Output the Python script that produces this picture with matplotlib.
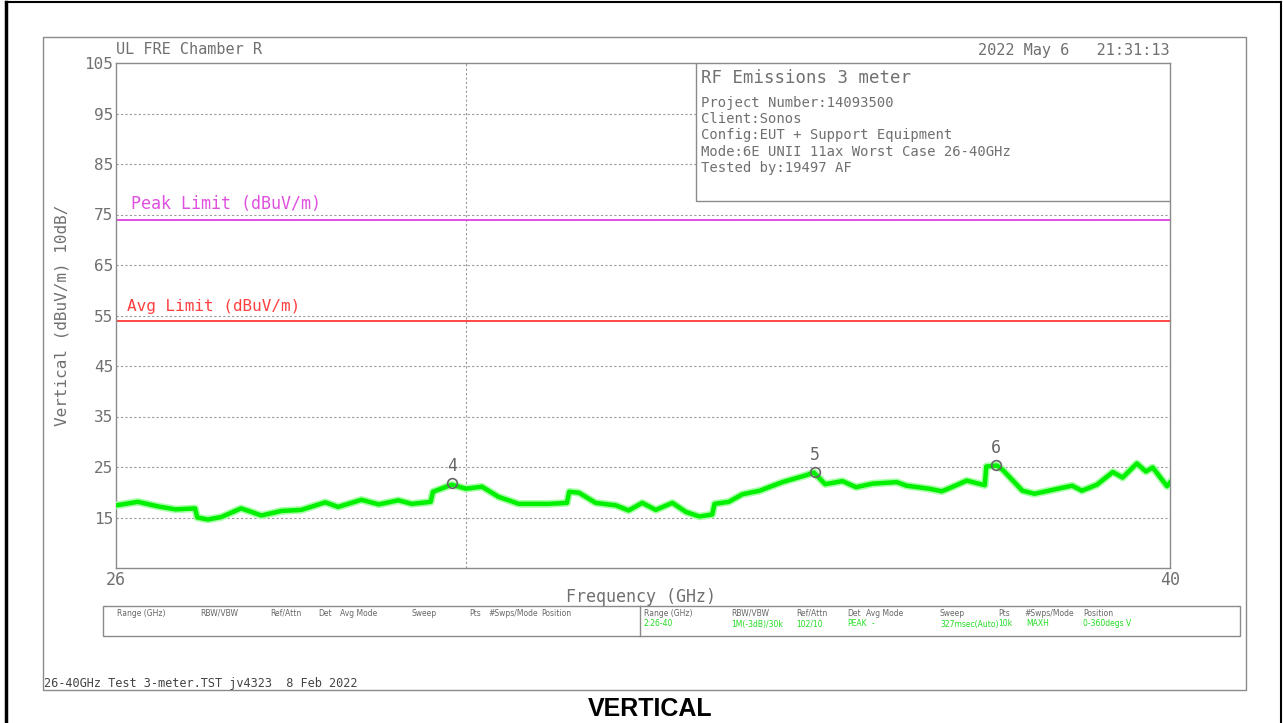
import matplotlib
matplotlib.use("Agg")
import matplotlib.pyplot as plt
from matplotlib.patches import Rectangle
from matplotlib.lines import Line2D

# trace (GHz, dBuV/m)
freq_ghz = [26.00, 26.29, 26.56, 26.79, 27.05, 27.08, 27.22, 27.40, 27.66, 27.80,
            27.93, 28.20, 28.46, 28.78, 28.95, 29.26, 29.49, 29.75, 29.93, 30.18,
            30.21, 30.46, 30.65, 30.86, 31.08, 31.35, 31.75, 31.99, 32.02, 32.15,
            32.37, 32.64, 32.81, 32.99, 33.17, 33.39, 33.57, 33.75, 33.92, 33.95,
            34.14, 34.32, 34.55, 34.85, 35.15, 35.27, 35.42, 35.65, 35.83, 36.05,
            36.37, 36.50, 36.80, 36.97, 37.07, 37.30, 37.54, 37.56, 37.70, 37.78,
            38.04, 38.20, 38.45, 38.70, 38.83, 39.03, 39.24, 39.37, 39.56, 39.68,
            39.77, 39.96, 40.00]
level_dbuv = [17.4, 18.1, 17.2, 16.6, 16.8, 15.0, 14.6, 15.1, 16.8, 16.1,
              15.4, 16.3, 16.5, 18.0, 17.1, 18.5, 17.6, 18.4, 17.7, 18.1,
              20.1, 21.5, 20.7, 21.1, 19.1, 17.7, 17.7, 17.9, 20.1, 19.9,
              17.9, 17.4, 16.4, 17.9, 16.5, 17.9, 16.1, 15.2, 15.6, 17.7,
              18.1, 19.6, 20.3, 22.0, 23.3, 23.9, 21.6, 22.2, 21.0, 21.7,
              22.0, 21.3, 20.7, 20.2, 20.8, 22.3, 21.4, 25.1, 25.3, 24.4,
              20.3, 19.7, 20.5, 21.3, 20.3, 21.5, 24.0, 22.9, 25.7, 24.1,
              24.9, 21.2, 21.9]

marker_ids = ["4", "5", "6"]
marker_freq = [30.46, 35.28, 37.69]
marker_level = [21.8, 24.0, 25.4]
marker_line_freq = 30.65

peak_limit = 74
avg_limit = 54
y_ticks = [105, 95, 85, 75, 65, 55, 45, 35, 25, 15]

info_lines = ["Project Number:14093500", "Client:Sonos",
              "Config:EUT + Support Equipment",
              "Mode:6E UNII 11ax Worst Case 26-40GHz", "Tested by:19497 AF"]

tbl_head = ["Range (GHz)", "RBW/VBW", "Ref/Attn", "Det", "Avg Mode", "Sweep",
            "Pts", "#Swps/Mode", "Position"]
tbl_vals = ["2:26-40", "1M(-3dB)/30k", "102/10", "PEAK", "-", "327msec(Auto)",
            "10k", "MAXH", "0-360degs V"]
tbl_x_left = [117, 200, 270, 318, 340, 411, 469, 488, 541]
tbl_x_right = [644, 731, 796, 847, 866, 940, 998, 1024, 1083]
tbl_x_vals = [644, 731, 796, 847, 872, 940, 998, 1026, 1083]

W, H = 1283, 723
fig = plt.figure(figsize=(W / 100, H / 100), dpi=100)
fig.patch.set_facecolor("white")


def fx(x):
    return x / W


def fy(y):
    return 1 - y / H


mono = "DejaVu Sans Mono"
grey = "#707070"

# frames
fig.add_artist(Line2D([fx(6), fx(6)], [0, fy(2)], color="black", lw=2.5))
fig.add_artist(Line2D([fx(6), fx(1281)], [fy(2), fy(2)], color="black", lw=1.5))
fig.add_artist(Line2D([fx(1281), fx(1281)], [0, fy(2)], color="black", lw=1.5))
fig.add_artist(Rectangle((fx(43), fy(690)), fx(1246) - fx(43), fy(37) - fy(690),
                         fill=False, ec="#8a8a8a", lw=1))

ax = fig.add_axes([fx(116), fy(568), fx(1170) - fx(116), fy(63) - fy(568)])
ax.set_xlim(26, 40)
ax.set_ylim(5, 105)
for s in ax.spines.values():
    s.set_color("#8a8a8a")
    s.set_linewidth(1)

for v in y_ticks[1:]:
    ax.axhline(v, color="#999999", lw=0.8, ls=(0, (2, 2)), zorder=1)
ax.axvline(marker_line_freq, color="#999999", lw=0.8, ls=(0, (2, 2)), zorder=1)

ax.set_yticks(y_ticks)
ax.set_yticklabels([str(v) for v in y_ticks], fontfamily=mono, fontsize=11.5, color=grey)
ax.set_xticks([26, 40])
ax.set_xticklabels(["26", "40"], fontfamily=mono, fontsize=12, color=grey)
ax.tick_params(length=0, pad=2)

fig.text(fx(62), fy(315), "Vertical (dBuV/m) 10dB/", fontfamily=mono, fontsize=11.5,
         color=grey, rotation=90, ha="center", va="center")
fig.text(fx(641), fy(597), "Frequency (GHz)", fontfamily=mono, fontsize=12,
         color=grey, ha="center", va="center")

# limits
ax.axhline(peak_limit, color="#e040e0", lw=1.3, zorder=2)
ax.axhline(avg_limit, color="#ff3838", lw=1.3, zorder=2)
ax.text(26.2, peak_limit + 1.2, "Peak Limit (dBuV/m)", fontfamily=mono, fontsize=12,
        color="#e050e0", va="bottom")
ax.text(26.15, avg_limit + 1.2, "Avg Limit (dBuV/m)", fontfamily=mono, fontsize=11.5,
        color="#ff4040", va="bottom")

# trace
ax.plot(freq_ghz, level_dbuv, color="#a8ffa8", lw=5.5, zorder=3)
ax.plot(freq_ghz, level_dbuv, color="#00f000", lw=3.2, zorder=4)

# markers
ax.plot(marker_freq, marker_level, ls="none", marker="o", ms=7, mfc="none",
        mec="#666666", mew=1.2, zorder=5)
for m, f, l in zip(marker_ids, marker_freq, marker_level):
    ax.annotate(m, (f, l), xytext=(0, 6), textcoords="offset points", ha="center",
                va="bottom", fontfamily=mono, fontsize=12, color="#666666", zorder=6)

# info box
box_left = 26 + (696 - 116) / 1054 * 14
ax.add_patch(Rectangle((box_left, 77.7), 40 - box_left, 105 - 77.7,
                       fc="white", ec="#8a8a8a", lw=1, zorder=7))

fig.text(fx(116), fy(50), "UL FRE Chamber R", fontfamily=mono, fontsize=11, color=grey, va="center")
fig.text(fx(1170), fy(50), "2022 May 6   21:31:13", fontfamily=mono, fontsize=11,
         color=grey, va="center", ha="right")
fig.text(fx(701), fy(78), "RF Emissions 3 meter", fontfamily=mono, fontsize=12.5,
         color=grey, va="center", zorder=8)
for i, line in enumerate(info_lines):
    fig.text(fx(701), fy(103 + i * 16.2), line, fontfamily=mono, fontsize=10,
             color=grey, va="center", zorder=8)

# settings table
fig.add_artist(Rectangle((fx(103), fy(636)), fx(1240) - fx(103), fy(606) - fy(636),
                         fill=False, ec="#8a8a8a", lw=1))
fig.add_artist(Line2D([fx(640), fx(640)], [fy(636), fy(606)], color="#8a8a8a", lw=1))
for t, x in zip(tbl_head, tbl_x_left):
    fig.text(fx(x), fy(613), t, fontsize=5.5, color="#666666", va="center")
for t, x in zip(tbl_head, tbl_x_right):
    fig.text(fx(x), fy(613), t, fontsize=5.5, color="#666666", va="center")
for t, x in zip(tbl_vals, tbl_x_vals):
    fig.text(fx(x), fy(624), t, fontsize=5.5, color="#22dd22", va="center")

fig.text(fx(44), fy(684), "26-40GHz Test 3-meter.TST jv4323  8 Feb 2022", fontfamily=mono,
         fontsize=8.6, color="#444444", va="center")
fig.text(fx(650), fy(709), "VERTICAL", fontfamily="Liberation Sans", fontweight="bold",
         fontsize=18, color="black", ha="center", va="center")

fig.savefig("out.png", dpi=100)
